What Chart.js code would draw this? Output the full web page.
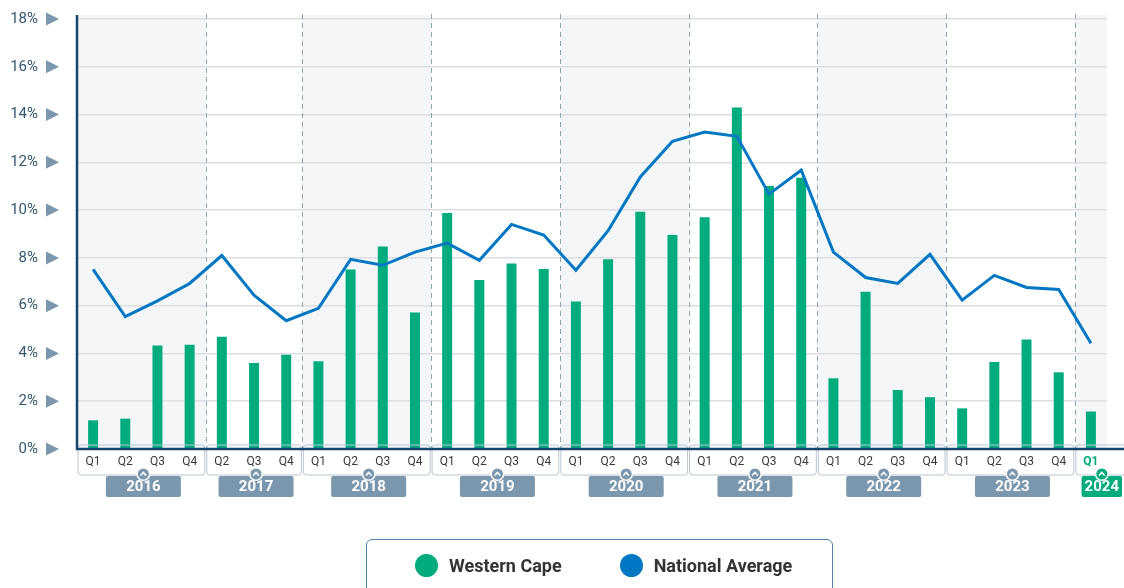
<!DOCTYPE html>
<html lang="en">
<head>
    <meta charset="UTF-8">
    <meta name="viewport" content="width=device-width, initial-scale=1.0">
    <title>Western Cape vs National Average</title>
    <style>
        body {
            margin: 0;
            background: #fff;
            font-family: Roboto, Arial, sans-serif;
        }

        .wrap {
            position: relative;
            width: 1124px;
            height: 588px;
            overflow: hidden;
        }

        canvas {
            display: block;
        }

        .legend {
            position: absolute;
            left: 366px;
            top: 539px;
            width: 467px;
            height: 70px;
            box-sizing: border-box;
            border: 1.5px solid #4f83ac;
            border-radius: 6px;
            display: flex;
            align-items: flex-start;
            padding: 14px 0 0 48px;
        }

        .legend-item {
            display: flex;
            align-items: center;
            flex-shrink: 0;
            white-space: nowrap;
            font-size: 18px;
            font-weight: bold;
            color: #333;
            margin-right: 58px;
        }

        .dot {
            width: 23px;
            height: 23px;
            border-radius: 50%;
            margin-right: 11px;
        }
    </style>
</head>
<body>
    <div class="wrap">
        <canvas id="chart" width="1124" height="588"></canvas>
        <div class="legend">
            <div class="legend-item"><span class="dot" style="background:#00ac7e"></span>Western Cape</div>
            <div class="legend-item"><span class="dot" style="background:#0077c2"></span>National Average</div>
        </div>
    </div>

    <script src="https://cdn.jsdelivr.net/npm/chart.js"></script>
    <script>
        // quarters on the x axis and the year each one belongs to
        const quarters = ['Q1', 'Q2', 'Q3', 'Q4',
                          'Q2', 'Q3', 'Q4',
                          'Q1', 'Q2', 'Q3', 'Q4',
                          'Q1', 'Q2', 'Q3', 'Q4',
                          'Q1', 'Q2', 'Q3', 'Q4',
                          'Q1', 'Q2', 'Q3', 'Q4',
                          'Q1', 'Q2', 'Q3', 'Q4',
                          'Q1', 'Q2', 'Q3', 'Q4',
                          'Q1'];
        const quarterYears = ['2016', '2016', '2016', '2016',
                              '2017', '2017', '2017',
                              '2018', '2018', '2018', '2018',
                              '2019', '2019', '2019', '2019',
                              '2020', '2020', '2020', '2020',
                              '2021', '2021', '2021', '2021',
                              '2022', '2022', '2022', '2022',
                              '2023', '2023', '2023', '2023',
                              '2024'];

        const westernCape = [1.2, 1.27, 4.33, 4.36,
                             4.7, 3.6, 3.95,
                             3.67, 7.51, 8.48, 5.71,
                             9.88, 7.07, 7.76, 7.54,
                             6.17, 7.94, 9.93, 8.96,
                             9.7, 14.3, 11.01, 11.35,
                             2.96, 6.58, 2.47, 2.17,
                             1.7, 3.64, 4.58, 3.21,
                             1.57];
        const nationalAverage = [7.52, 5.54, 6.2, 6.93,
                                 8.1, 6.44, 5.37,
                                 5.89, 7.94, 7.69, 8.24,
                                 8.62, 7.9, 9.4, 8.96,
                                 7.48, 9.14, 11.39, 12.88,
                                 13.27, 13.09, 10.67, 11.67,
                                 8.24, 7.18, 6.93, 8.15,
                                 6.23, 7.27, 6.76, 6.68,
                                 4.43];

        const yTicks = [0, 2, 4, 6, 8, 10, 12, 14, 16, 18];

        const green = '#00ac7e';
        const blue = '#0077c2';
        const navy = '#16456d';
        const slate = '#7b97ae';
        const lastIndex = quarters.length - 1;

        // group consecutive quarters by year
        function yearGroups() {
            const groups = [];
            quarterYears.forEach((y, i) => {
                const g = groups[groups.length - 1];
                if (g && g.year === y) g.end = i;
                else groups.push({ year: y, start: i, end: i });
            });
            return groups;
        }

        function roundRect(ctx, x, y, w, h, r) {
            ctx.beginPath();
            ctx.moveTo(x + r, y);
            ctx.lineTo(x + w - r, y);
            ctx.quadraticCurveTo(x + w, y, x + w, y + r);
            ctx.lineTo(x + w, y + h - r);
            ctx.quadraticCurveTo(x + w, y + h, x + w - r, y + h);
            ctx.lineTo(x + r, y + h);
            ctx.quadraticCurveTo(x, y + h, x, y + h - r);
            ctx.lineTo(x, y + r);
            ctx.quadraticCurveTo(x, y, x + r, y);
            ctx.closePath();
        }

        const decorations = {
            id: 'decorations',
            beforeDraw(chart) {
                const { ctx, chartArea, scales } = chart;
                ctx.save();
                yearGroups().forEach((g, k) => {
                    if (k % 2 !== 0) return;
                    const x0 = scales.x.getPixelForValue(g.start - 0.5);
                    const x1 = Math.min(scales.x.getPixelForValue(g.end + 0.5), chartArea.right);
                    ctx.fillStyle = '#f4f6f8';
                    ctx.fillRect(x0, chartArea.top - 4, x1 - x0, chartArea.bottom - chartArea.top + 4);
                });
                ctx.restore();
            },
            beforeDatasetsDraw(chart) {
                const { ctx, chartArea, scales } = chart;
                ctx.save();
                ctx.strokeStyle = '#8ea4b8';
                ctx.lineWidth = 1;
                ctx.setLineDash([5, 4]);
                yearGroups().forEach((g, k) => {
                    if (k === 0) return;
                    const x = Math.round(scales.x.getPixelForValue(g.start - 0.5)) + 0.5;
                    ctx.beginPath();
                    ctx.moveTo(x, chartArea.top - 5);
                    ctx.lineTo(x, chartArea.bottom);
                    ctx.stroke();
                });
                ctx.restore();
            },
            afterDraw(chart) {
                const { ctx, chartArea, scales, width } = chart;
                const bottom = chartArea.bottom;
                ctx.save();

                // triangles next to the y labels
                ctx.fillStyle = slate;
                scales.y.ticks.forEach(t => {
                    const y = scales.y.getPixelForValue(t.value);
                    ctx.beginPath();
                    ctx.moveTo(46, y - 6.5);
                    ctx.lineTo(59, y);
                    ctx.lineTo(46, y + 6.5);
                    ctx.closePath();
                    ctx.fill();
                });

                // brackets, year boxes and caret badges
                yearGroups().forEach((g, k, all) => {
                    const x0 = scales.x.getPixelForValue(g.start - 0.5);
                    let x1 = scales.x.getPixelForValue(g.end + 0.5);
                    const isLast = k === all.length - 1;
                    if (isLast) x1 = width + 6;
                    ctx.strokeStyle = '#b7c6d3';
                    ctx.lineWidth = 1;
                    ctx.setLineDash([]);
                    roundRect(ctx, x0 + 1, bottom - 4, x1 - x0 - 2, 30, 3);
                    ctx.stroke();

                    const color = isLast ? green : slate;
                    ctx.font = 'bold 15px Roboto, Arial, sans-serif';
                    const tw = ctx.measureText(g.year).width;
                    let cx = (x0 + x1) / 2 + 2;
                    let bw = 75;
                    let bx = cx - bw / 2;
                    if (isLast) {
                        bw = tw + 6;
                        bx = width - 2 - bw;
                        cx = bx + bw / 2;
                    }
                    ctx.fillStyle = color;
                    roundRect(ctx, bx, 476, bw, 21, 2);
                    ctx.fill();
                    ctx.fillStyle = '#fff';
                    ctx.textAlign = 'center';
                    ctx.textBaseline = 'middle';
                    ctx.fillText(g.year, cx, 487.5);

                    // badge
                    ctx.beginPath();
                    ctx.arc(cx, 474, 7, 0, Math.PI * 2);
                    ctx.fillStyle = '#fff';
                    ctx.fill();
                    ctx.beginPath();
                    ctx.arc(cx, 474, 5.5, 0, Math.PI * 2);
                    ctx.fillStyle = color;
                    ctx.fill();
                    ctx.beginPath();
                    ctx.moveTo(cx - 2.8, 475.5);
                    ctx.lineTo(cx, 472.5);
                    ctx.lineTo(cx + 2.8, 475.5);
                    ctx.strokeStyle = '#fff';
                    ctx.lineWidth = 1.6;
                    ctx.stroke();
                });

                // axis lines
                ctx.strokeStyle = navy;
                ctx.lineWidth = 2.5;
                ctx.beginPath();
                ctx.moveTo(chartArea.left, chartArea.top - 4);
                ctx.lineTo(chartArea.left, bottom);
                ctx.lineTo(width, bottom);
                ctx.stroke();
                ctx.restore();
            }
        };

        new Chart(document.getElementById('chart'), {
            data: {
                labels: quarters,
                datasets: [{
                    type: 'line',
                    label: 'National Average',
                    data: nationalAverage,
                    borderColor: blue,
                    borderWidth: 3,
                    pointRadius: 0,
                    tension: 0,
                    order: 0
                }, {
                    type: 'bar',
                    label: 'Western Cape',
                    data: westernCape,
                    backgroundColor: green,
                    barPercentage: 0.31,
                    categoryPercentage: 1,
                    order: 1
                }]
            },
            options: {
                responsive: false,
                animation: false,
                layout: { padding: { top: 19, right: 17, bottom: 0, left: 0 } },
                plugins: {
                    legend: { display: false },
                    tooltip: { enabled: false }
                },
                scales: {
                    x: {
                        offset: true,
                        grid: { display: false, drawTicks: false },
                        border: { display: false },
                        ticks: {
                            padding: 6,
                            autoSkip: false,
                            maxRotation: 0,
                            color: c => c.index === lastIndex ? green : '#3a3a3a',
                            font: c => ({
                                family: 'Roboto, Arial, sans-serif',
                                size: 12,
                                weight: c.index === lastIndex ? 'bold' : 'normal'
                            })
                        },
                        afterFit(scale) { scale.height = 139; }
                    },
                    y: {
                        min: yTicks[0],
                        max: yTicks[yTicks.length - 1],
                        afterBuildTicks(scale) { scale.ticks = yTicks.map(v => ({ value: v })); },
                        grid: { color: '#dcdee2', lineWidth: 1.5, drawTicks: false },
                        border: { display: false },
                        ticks: {
                            padding: 39,
                            color: '#34566f',
                            font: { family: 'Roboto, Arial, sans-serif', size: 15 },
                            callback: v => v + '%'
                        },
                        afterFit(scale) {
                            // tick padding would otherwise push the plot area down
                            scale.width = 77;
                            scale.paddingTop = 8;
                            scale.paddingBottom = 8;
                        }
                    }
                }
            },
            plugins: [decorations]
        });
    </script>
</body>
</html>
